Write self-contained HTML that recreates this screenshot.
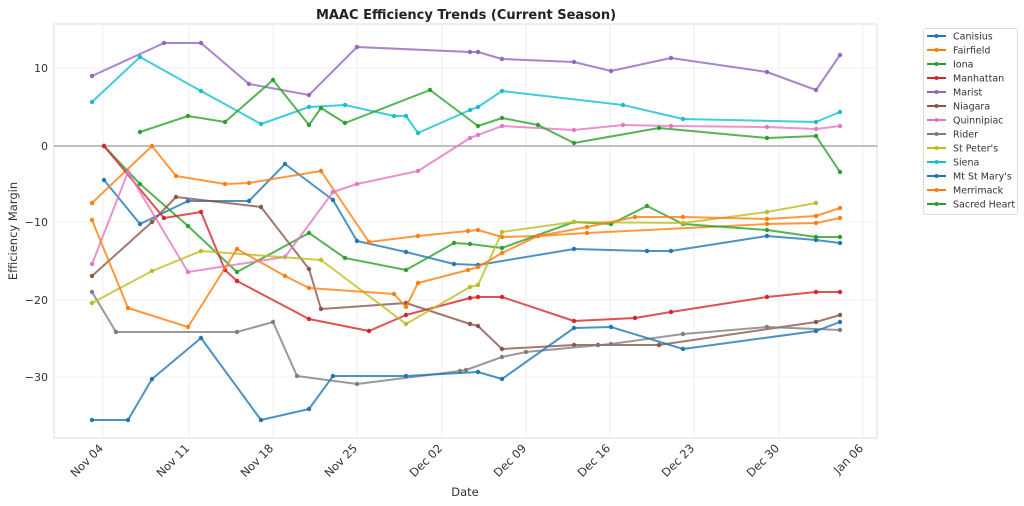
<!DOCTYPE html>
<html><head><meta charset="utf-8"><style>
body{margin:0;background:#fff;}
svg{display:block;font-family:"DejaVu Sans","Liberation Sans",sans-serif;}
</style></head><body>
<svg width="1024" height="506" viewBox="0 0 1024 506" xmlns="http://www.w3.org/2000/svg">
<defs>
<marker id="m0" markerWidth="6" markerHeight="6" refX="3" refY="3" markerUnits="userSpaceOnUse"><circle cx="3" cy="3" r="2.2" fill="#1f77b4"/></marker>
<marker id="m1" markerWidth="6" markerHeight="6" refX="3" refY="3" markerUnits="userSpaceOnUse"><circle cx="3" cy="3" r="2.2" fill="#ff7f0e"/></marker>
<marker id="m2" markerWidth="6" markerHeight="6" refX="3" refY="3" markerUnits="userSpaceOnUse"><circle cx="3" cy="3" r="2.2" fill="#2ca02c"/></marker>
<marker id="m3" markerWidth="6" markerHeight="6" refX="3" refY="3" markerUnits="userSpaceOnUse"><circle cx="3" cy="3" r="2.2" fill="#d62728"/></marker>
<marker id="m4" markerWidth="6" markerHeight="6" refX="3" refY="3" markerUnits="userSpaceOnUse"><circle cx="3" cy="3" r="2.2" fill="#9467bd"/></marker>
<marker id="m5" markerWidth="6" markerHeight="6" refX="3" refY="3" markerUnits="userSpaceOnUse"><circle cx="3" cy="3" r="2.2" fill="#8c564b"/></marker>
<marker id="m6" markerWidth="6" markerHeight="6" refX="3" refY="3" markerUnits="userSpaceOnUse"><circle cx="3" cy="3" r="2.2" fill="#e377c2"/></marker>
<marker id="m7" markerWidth="6" markerHeight="6" refX="3" refY="3" markerUnits="userSpaceOnUse"><circle cx="3" cy="3" r="2.2" fill="#7f7f7f"/></marker>
<marker id="m8" markerWidth="6" markerHeight="6" refX="3" refY="3" markerUnits="userSpaceOnUse"><circle cx="3" cy="3" r="2.2" fill="#bcbd22"/></marker>
<marker id="m9" markerWidth="6" markerHeight="6" refX="3" refY="3" markerUnits="userSpaceOnUse"><circle cx="3" cy="3" r="2.2" fill="#17becf"/></marker>
</defs>
<rect width="1024" height="506" fill="#fff"/>
<text x="466" y="19" text-anchor="middle" font-size="13" font-weight="bold" fill="#222">MAAC Efficiency Trends (Current Season)</text>
<g stroke="#ebebeb" stroke-width="0.8">
<line x1="103" y1="24" x2="103" y2="438"/><line x1="189" y1="24" x2="189" y2="438"/><line x1="273" y1="24" x2="273" y2="438"/><line x1="357" y1="24" x2="357" y2="438"/><line x1="442" y1="24" x2="442" y2="438"/><line x1="526" y1="24" x2="526" y2="438"/><line x1="610" y1="24" x2="610" y2="438"/><line x1="694" y1="24" x2="694" y2="438"/><line x1="779" y1="24" x2="779" y2="438"/><line x1="863" y1="24" x2="863" y2="438"/>
<line x1="54" y1="68" x2="877" y2="68"/><line x1="54" y1="222" x2="877" y2="222"/><line x1="54" y1="300" x2="877" y2="300"/><line x1="54" y1="377" x2="877" y2="377"/>
</g>
<rect x="54" y="24" width="823" height="414" fill="none" stroke="#ddd" stroke-width="1"/>
<line x1="54" y1="146" x2="877" y2="146" stroke="#999" stroke-width="1.2"/>
<g font-size="11" fill="#333" text-anchor="end">
<text x="48" y="72">10</text><text x="48" y="150">0</text><text x="48" y="226">−10</text><text x="48" y="304">−20</text><text x="48" y="381">−30</text>
</g>
<g font-size="11.5" fill="#333" text-anchor="end">
<text transform="translate(104,449) rotate(-45)">Nov 04</text>
<text transform="translate(190,449) rotate(-45)">Nov 11</text>
<text transform="translate(274,449) rotate(-45)">Nov 18</text>
<text transform="translate(358,449) rotate(-45)">Nov 25</text>
<text transform="translate(443,449) rotate(-45)">Dec 02</text>
<text transform="translate(527,449) rotate(-45)">Dec 09</text>
<text transform="translate(611,449) rotate(-45)">Dec 16</text>
<text transform="translate(695,449) rotate(-45)">Dec 23</text>
<text transform="translate(780,449) rotate(-45)">Dec 30</text>
<text transform="translate(864,449) rotate(-45)">Jan 06</text>
</g>
<text x="465" y="496" text-anchor="middle" font-size="11.5" fill="#333">Date</text>
<text transform="translate(17,231) rotate(-90)" text-anchor="middle" font-size="11.5" fill="#333">Efficiency Margin</text>
<g fill="none" stroke-width="2" stroke-opacity="0.8" stroke-linejoin="round">
<polyline stroke="#1f77b4" marker-start="url(#m0)" marker-mid="url(#m0)" marker-end="url(#m0)" points="104,180 140,224 188,201 249,201 285,164 333,200 357,241 406,252 454,264 478,265 574,249 647,251 671,251 767,236 816,240 840,243"/>
<polyline stroke="#ff7f0e" marker-start="url(#m1)" marker-mid="url(#m1)" marker-end="url(#m1)" points="92,203 152,146 176,176 225,184 249,183 321,171 369,242 418,236 468,231 478,230 502,237 538,236 587,233 767,224 816,223 840,218"/>
<polyline stroke="#2ca02c" marker-start="url(#m2)" marker-mid="url(#m2)" marker-end="url(#m2)" points="104,146 140,184 188,226 237,272 309,233 345,258 406,270 454,243 470,244 502,248 574,222 611,224 647,206 683,224 767,230 816,237 840,237"/>
<polyline stroke="#d62728" marker-start="url(#m3)" marker-mid="url(#m3)" marker-end="url(#m3)" points="104,146 164,218 201,212 225,270 237,281 309,319 369,331 406,315 470,298 478,297 502,297 574,321 635,318 671,312 767,297 816,292 840,292"/>
<polyline stroke="#9467bd" marker-start="url(#m4)" marker-mid="url(#m4)" marker-end="url(#m4)" points="92,76 164,43 201,43 249,84 309,95 357,47 470,52 478,52 502,59 574,62 611,71 671,58 767,72 816,90 840,55"/>
<polyline stroke="#8c564b" marker-start="url(#m5)" marker-mid="url(#m5)" marker-end="url(#m5)" points="92,276 152,222 176,197 261,207 309,269 321,309 406,303 470,324 478,326 502,349 574,345 598,345 659,345 816,322 840,315"/>
<polyline stroke="#e377c2" marker-start="url(#m6)" marker-mid="url(#m6)" marker-end="url(#m6)" points="92,264 128,172 188,272 285,257 333,192 357,184 418,171 470,138 478,135 502,126 574,130 623,125 671,126 767,127 816,129 840,126"/>
<polyline stroke="#7f7f7f" marker-start="url(#m7)" marker-mid="url(#m7)" marker-end="url(#m7)" points="92,292 116,332 237,332 273,322 297,376 357,384 460,371 466,370 502,357 526,352 611,344 683,334 767,327 840,330"/>
<polyline stroke="#bcbd22" marker-start="url(#m8)" marker-mid="url(#m8)" marker-end="url(#m8)" points="92,303 152,271 201,251 321,260 406,324 470,287 478,285 502,232 574,222 683,223 767,212 816,203"/>
<polyline stroke="#17becf" marker-start="url(#m9)" marker-mid="url(#m9)" marker-end="url(#m9)" points="92,102 140,57 201,91 261,124 309,107 345,105 394,116 406,116 418,133 470,110 478,107 502,91 623,105 683,119 816,122 840,112"/>
<polyline stroke="#1f77b4" marker-start="url(#m0)" marker-mid="url(#m0)" marker-end="url(#m0)" points="92,420 128,420 152,379 201,338 261,420 309,409 333,376 406,376 478,372 502,379 574,328 611,327 683,349 816,331 840,322"/>
<polyline stroke="#ff7f0e" marker-start="url(#m1)" marker-mid="url(#m1)" marker-end="url(#m1)" points="92,220 128,308 188,327 237,249 285,276 309,288 394,294 406,307 418,283 468,270 478,267 502,253 538,236 587,227 635,217 683,217 767,219 816,216 840,208"/>
<polyline stroke="#2ca02c" marker-start="url(#m2)" marker-mid="url(#m2)" marker-end="url(#m2)" points="140,132 188,116 225,122 273,80 309,125 321,108 345,123 430,90 478,126 502,118 538,125 574,143 659,128 767,138 816,136 840,172"/>
</g>
<rect x="923.5" y="28.5" width="94" height="186" rx="2" fill="#fff" stroke="#ddd"/>
<g font-size="9.5" fill="#333" stroke-width="2">
<line x1="927" y1="36" x2="946" y2="36" stroke="#1f77b4"/><circle cx="936.5" cy="36" r="2" fill="#1f77b4"/><text x="953" y="39.5">Canisius</text>
<line x1="927" y1="50" x2="946" y2="50" stroke="#ff7f0e"/><circle cx="936.5" cy="50" r="2" fill="#ff7f0e"/><text x="953" y="53.5">Fairfield</text>
<line x1="927" y1="64" x2="946" y2="64" stroke="#2ca02c"/><circle cx="936.5" cy="64" r="2" fill="#2ca02c"/><text x="953" y="67.5">Iona</text>
<line x1="927" y1="78" x2="946" y2="78" stroke="#d62728"/><circle cx="936.5" cy="78" r="2" fill="#d62728"/><text x="953" y="81.5">Manhattan</text>
<line x1="927" y1="92" x2="946" y2="92" stroke="#9467bd"/><circle cx="936.5" cy="92" r="2" fill="#9467bd"/><text x="953" y="95.5">Marist</text>
<line x1="927" y1="106" x2="946" y2="106" stroke="#8c564b"/><circle cx="936.5" cy="106" r="2" fill="#8c564b"/><text x="953" y="109.5">Niagara</text>
<line x1="927" y1="120" x2="946" y2="120" stroke="#e377c2"/><circle cx="936.5" cy="120" r="2" fill="#e377c2"/><text x="953" y="123.5">Quinnipiac</text>
<line x1="927" y1="134" x2="946" y2="134" stroke="#7f7f7f"/><circle cx="936.5" cy="134" r="2" fill="#7f7f7f"/><text x="953" y="137.5">Rider</text>
<line x1="927" y1="148" x2="946" y2="148" stroke="#bcbd22"/><circle cx="936.5" cy="148" r="2" fill="#bcbd22"/><text x="953" y="151.5">St Peter's</text>
<line x1="927" y1="162" x2="946" y2="162" stroke="#17becf"/><circle cx="936.5" cy="162" r="2" fill="#17becf"/><text x="953" y="165.5">Siena</text>
<line x1="927" y1="176" x2="946" y2="176" stroke="#1f77b4"/><circle cx="936.5" cy="176" r="2" fill="#1f77b4"/><text x="953" y="179.5">Mt St Mary's</text>
<line x1="927" y1="190" x2="946" y2="190" stroke="#ff7f0e"/><circle cx="936.5" cy="190" r="2" fill="#ff7f0e"/><text x="953" y="193.5">Merrimack</text>
<line x1="927" y1="204" x2="946" y2="204" stroke="#2ca02c"/><circle cx="936.5" cy="204" r="2" fill="#2ca02c"/><text x="953" y="207.5">Sacred Heart</text>
</g>
</svg>
</body></html>
